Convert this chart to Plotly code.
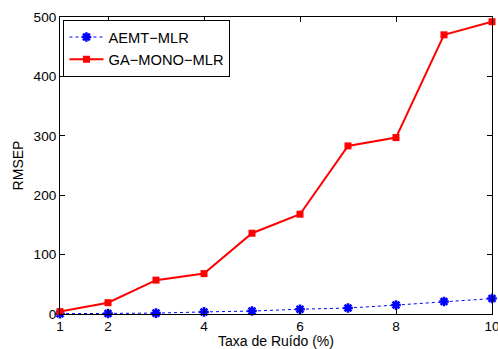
import plotly.graph_objects as go

noise_rate = [1, 2, 3, 4, 5, 6, 7, 8, 9, 10]
aemt_mlr = [0.5, 0.8, 1.5, 3.5, 5, 8, 10, 15, 21, 26]
ga_mono_mlr = [4, 19, 57, 68, 136, 168, 283, 297, 470, 492]
x_ticks = [1, 2, 4, 6, 8, 10]
y_ticks = [0, 100, 200, 300, 400, 500]

font = dict(family="Liberation Sans, Arial, sans-serif", size=14, color="black")
tick_font = dict(family="Liberation Sans, Arial, sans-serif", size=13.6, color="black")
legend_font = dict(family="Liberation Sans, Arial, sans-serif", size=14.7, color="black")

fig = go.Figure()
fig.add_trace(go.Scatter(
    x=noise_rate, y=aemt_mlr, name="AEMT\u2212MLR", mode="lines+markers",
    line=dict(color="blue", width=1, dash="dot"),
    marker=dict(symbol="asterisk", size=8, color="blue", line=dict(color="blue", width=2.5)),
    cliponaxis=False,
))
fig.add_trace(go.Scatter(
    x=noise_rate, y=ga_mono_mlr, name="GA\u2212MONO\u2212MLR", mode="lines+markers",
    line=dict(color="red", width=2),
    marker=dict(symbol="square", size=7, color="red"),
    cliponaxis=False,
))

axis_common = dict(
    showgrid=False, zeroline=False, showline=True, linecolor="black", linewidth=1,
    mirror="ticks", ticks="inside", ticklen=5, tickcolor="black",
    tickfont=tick_font, ticklabeloverflow="allow",
)
fig.update_layout(
    width=498, height=349,
    margin=dict(l=60, r=6, t=17, b=35),
    paper_bgcolor="white", plot_bgcolor="white",
    font=font,
    xaxis=dict(range=[1, 10], tickvals=x_ticks, automargin=False,
               title=dict(text="Taxa de Ruído (%)", font=font, standoff=2), **axis_common),
    yaxis=dict(range=[0, 500], tickvals=y_ticks, automargin=False,
               title=dict(text="RMSEP", font=font, standoff=6), **axis_common),
    legend=dict(x=0.008, y=0.99, xanchor="left", yanchor="top",
                bordercolor="black", borderwidth=1, bgcolor="white",
                font=legend_font, tracegroupgap=0, itemwidth=34),
    showlegend=True,
)
fig.write_html("out.html", config={"displayModeBar": False},
               post_script="document.body.style.margin='0px';document.body.style.overflow='hidden';")
